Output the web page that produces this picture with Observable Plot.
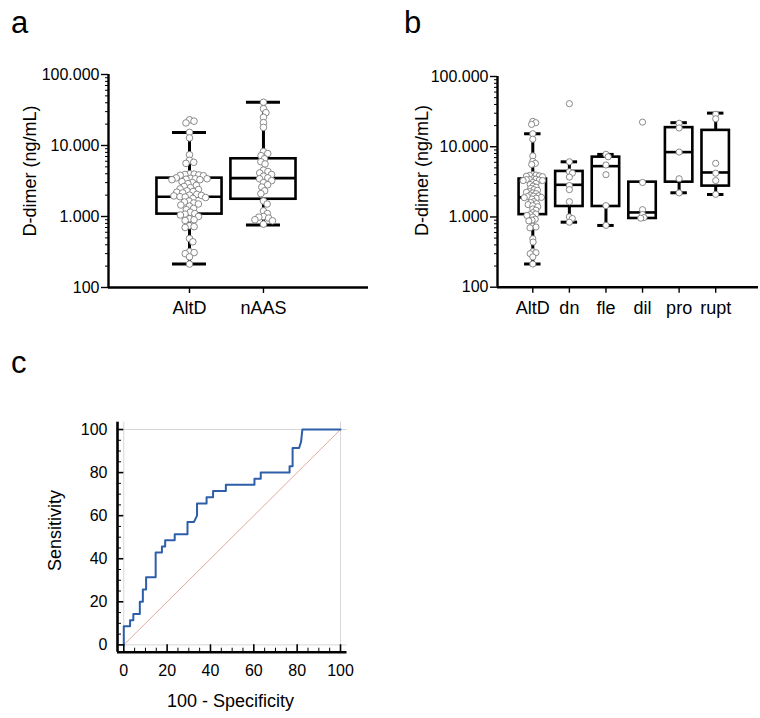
<!DOCTYPE html>
<html><head><meta charset="utf-8">
<script src="https://cdn.jsdelivr.net/npm/d3@7"></script>
<script src="https://cdn.jsdelivr.net/npm/@observablehq/plot@0.6"></script>
<style>
body{margin:0;background:#fff;}
#fig{position:relative;width:760px;height:718px;font-family:"Liberation Sans",Arial,sans-serif;overflow:hidden;background:#fff}
.panel{position:absolute}
.letter{position:absolute;font-size:31px;line-height:30px;color:#000;font-family:"Liberation Sans",Arial,sans-serif}
</style></head><body><div id="fig"></div>
<script>
// ---------- Panel a data ----------
const groupsA = ["AltD", "nAAS"];
const altD = [23000, 22000, 20800, 15300, 12800, 7400, 6200, 5800, 5600,
  4000, 3950, 3900, 3850, 3800, 3750,
  3500, 3450, 3400, 3400, 3350, 3300, 3300,
  3100, 3000, 2900, 2750, 2650, 2550, 2450, 2400, 2300, 2250, 2200, 2150,
  2050, 2000, 1980, 1950, 1900, 1880, 1850, 1800,
  1650, 1600, 1550, 1500, 1450, 1400, 1300, 1250,
  1150, 1100, 1080, 1050, 1000,
  930, 900, 880,
  740, 720, 700,
  490, 440,
  320, 310, 300, 270, 214];
const nAAS = [40700, 33000, 29000, 25000, 21000, 18000,
  8200, 7700, 7200, 6500, 5900, 5500,
  4500, 4300, 4100, 3900, 3700, 3500, 3400, 3200, 3000, 2800, 2600, 2300, 2100,
  1650, 1500, 1200, 1100, 1000, 980, 950, 900, 870, 780];
const boxMinA = [214, 760];
const boxQ1A = [1080, 1750];
const boxMedA = [1900, 3470];
const boxQ3A = [3470, 6500];
const boxMaxA = [15300, 40700];

// ---------- Panel b data ----------
const groupsB = ["AltD", "dn", "fle", "dil", "pro", "rupt"];
const dn = [41000, 6100, 4400, 4200, 3700, 2800, 2450, 1650, 1000, 950, 843];
const fle = [7800, 7200, 5500, 4000, 1450, 760];
const dil = [22400, 3100, 1270, 1080, 980, 960];
const pro = [21600, 18500, 8400, 3500, 2200];
const rupt = [29000, 25000, 5800, 4200, 3300, 2100];
const boxMinB = [214, 843, 757, 952, 2210, 2090];
const boxQ1B = [1080, 1410, 1410, 952, 3130, 2750];
const boxMedB = [1900, 2870, 5290, 1160, 8380, 4300];
const boxQ3B = [3470, 4450, 7110, 3130, 18700, 17100];
const boxMaxB = [15300, 6100, 7770, 3130, 22000, 30100];

// ---------- log axis ticks ----------
const yTicksMajor = [100, 1000, 10000, 100000];
const yTickLabels = ["100", "1.000", "10.000", "100.000"];
const yTicksMinor = [100, 1000, 10000].flatMap(d => [2, 3, 4, 5, 6, 7, 8, 9].map(k => k * d));

// ---------- Panel c data (ROC curve vertices) ----------
const rocFpr = [0, 0, 2.9, 2.9, 4.4, 4.4, 7.4, 7.4, 8.8, 8.8, 10.3, 10.3, 14.7, 14.7, 17.6, 17.6, 19.1, 19.1,
  23.5, 23.5, 29.4, 29.4, 32.4, 33.8, 33.8, 38.2, 38.2, 41.2, 41.2, 47.1, 47.1, 60.3, 60.3, 63.2, 63.2,
  76.5, 76.5, 77.9, 77.9, 80.9, 81.8, 82.4, 100];
const rocTpr = [0, 8.6, 8.6, 11.4, 11.4, 14.3, 14.3, 20.0, 20.0, 25.7, 25.7, 31.4, 31.4, 42.9, 42.9, 45.7, 45.7, 48.6,
  48.6, 51.4, 51.4, 57.1, 57.1, 60.0, 65.7, 65.7, 68.6, 68.6, 71.4, 71.4, 74.3, 74.3, 77.1, 77.1, 80.0,
  80.0, 82.9, 82.9, 91.4, 91.4, 94.3, 100, 100];
const refX = [0, 100];
const refY = [0, 100];
const rocTicksMajor = [0, 20, 40, 60, 80, 100];
const rocTicksMinor = [5, 10, 15, 25, 30, 35, 45, 50, 55, 65, 70, 75, 85, 90, 95];

// ---------- helpers ----------
function swarm(values, yPx, D) {
  const pts = values.map(v => ({v, py: yPx(v)})).sort((a, b) => a.py - b.py);
  const placed = [];
  for (const p of pts) {
    const near = placed.filter(q => Math.abs(q.py - p.py) < D);
    const cands = [0];
    for (const q of near) {
      const dx = Math.sqrt(D * D - (q.py - p.py) ** 2);
      cands.push(q.px + dx, q.px - dx);
    }
    cands.sort((a, b) => Math.abs(a) - Math.abs(b));
    let best = 0;
    for (const c of cands) {
      if (near.every(q => (q.px - c) ** 2 + (q.py - p.py) ** 2 >= D * D - 1e-6)) { best = c; break; }
    }
    p.px = best;
    placed.push(p);
  }
  return placed;
}

const FONT = '"Liberation Sans", Arial, sans-serif';

function boxPanel(o) {
  const plotW = o.width - o.ml - o.mr, plotH = o.height - o.mt - o.mb;
  const pxPerUnit = plotW / (o.xDom[1] - o.xDom[0]);
  const yPx = d3.scaleLog().domain([100, 1e5]).range([plotH, 0]);
  const pts = o.series.flatMap((vals, i) =>
    swarm(vals, yPx, 2 * o.r + o.gap).map(p => ({g: i, v: p.v, xo: p.px / pxPerUnit})));
  const boxes = o.groups.map((g, i) => ({i, min: o.mins[i], q1: o.q1s[i], med: o.meds[i], q3: o.q3s[i], max: o.maxs[i]}));
  const upper = boxes.filter(d => d.max > d.q3);
  const lower = boxes.filter(d => d.min < d.q1);
  const bw = o.boxW / 2, cw = o.capW / 2;
  return Plot.plot({
    width: o.width, height: o.height,
    marginTop: o.mt, marginBottom: o.mb, marginLeft: o.ml, marginRight: o.mr,
    x: {type: "linear", domain: o.xDom},
    y: {type: "log", domain: [100, 1e5]},
    style: {fontFamily: FONT, fontSize: "16px", background: "white", color: "black", overflow: "visible"},
    marks: [
      Plot.ruleX(upper, {x: "i", y1: "q3", y2: "max", stroke: "black", strokeWidth: 3}),
      Plot.ruleX(lower, {x: "i", y1: "min", y2: "q1", stroke: "black", strokeWidth: 3}),
      Plot.ruleY(upper, {y: "max", x1: d => d.i - cw, x2: d => d.i + cw, stroke: "black", strokeWidth: 3}),
      Plot.ruleY(lower, {y: "min", x1: d => d.i - cw, x2: d => d.i + cw, stroke: "black", strokeWidth: 3}),
      Plot.rect(boxes, {x1: d => d.i - bw, x2: d => d.i + bw, y1: "q1", y2: "q3", fill: "white", stroke: "black", strokeWidth: 2.6}),
      Plot.ruleY(boxes, {y: "med", x1: d => d.i - bw, x2: d => d.i + bw, stroke: "black", strokeWidth: 2.6}),
      Plot.dot(pts, {x: d => d.g + d.xo, y: "v", r: o.r, fill: "white", stroke: "#7d7d7d", strokeWidth: 0.9}),
      Plot.ruleX([o.xDom[0]], {stroke: "black", strokeWidth: 2.4}),
      Plot.ruleY([100], {stroke: "black", strokeWidth: 2.4}),
      Plot.axisY({ticks: yTicksMajor, tickFormat: d => yTickLabels[yTicksMajor.indexOf(d)], tickSize: 7, tickPadding: 2, fontSize: 16, label: null, strokeWidth: 1.4}),
      Plot.axisY({ticks: yTicksMinor, tickFormat: () => "", tickSize: 3, label: null, strokeWidth: 1}),
      Plot.axisX({ticks: d3.range(o.groups.length), tickFormat: i => o.groups[i], tickSize: 6, tickPadding: 7.7, fontSize: 18, label: null, strokeWidth: 1.4}),
      Plot.text([o.ylabel], {text: d => d, frameAnchor: "left", textAnchor: "middle", rotate: -90, dx: o.ldx, dy: o.ldy, fontSize: 18})
    ]
  });
}

const fig = document.getElementById("fig");
function place(node, left, top) {
  node.classList.add("panel");
  node.style.left = left + "px";
  node.style.top = top + "px";
  fig.appendChild(node);
}

// Panel a
place(boxPanel({
  groups: groupsA, series: [altD, nAAS],
  mins: boxMinA, q1s: boxQ1A, meds: boxMedA, q3s: boxQ3A, maxs: boxMaxA,
  width: 380, height: 330, mt: 74, mb: 43, ml: 108, mr: 12,
  xDom: [-1.095, 2.42], boxW: 0.88, capW: 0.46, r: 3.3, gap: -1.9,
  ylabel: "D-dimer (ng/mL)", ldx: -78, ldy: -10
}), 0, 0);

// Panel b
place(boxPanel({
  groups: groupsB, series: [altD, dn, fle, dil, pro, rupt],
  mins: boxMinB, q1s: boxQ1B, meds: boxMedB, q3s: boxQ3B, maxs: boxMaxB,
  width: 380, height: 330, mt: 76, mb: 43.3, ml: 117, mr: 2,
  xDom: [-0.965, 6.17], boxW: 0.75, capW: 0.45, r: 3.1, gap: -2.9,
  ylabel: "D-dimer (ng/mL)", ldx: -75.3, ldy: -11.3
}), 380, 0);

// Panel c
const rocData = rocFpr.map((x, i) => ({x, y: rocTpr[i]}));
const refData = refX.map((x, i) => ({x, y: refY[i]}));
const cx = [-2.9, 103], cy = [-3.4, 103.4];
const rocPlot = Plot.plot({
  width: 380, height: 358,
  marginTop: 61.7, marginBottom: 66.3, marginLeft: 117, marginRight: 33.5,
  x: {type: "linear", domain: cx},
  y: {type: "linear", domain: cy},
  style: {fontFamily: FONT, fontSize: "16px", background: "white", color: "black", overflow: "visible"},
  marks: [
    Plot.ruleY([0, 100], {stroke: "#d6d6d6", strokeWidth: 1}),
    Plot.ruleX([0, 100], {stroke: "#d6d6d6", strokeWidth: 1}),
    Plot.line(refData, {x: "x", y: "y", stroke: "#e0a090", strokeWidth: 0.9}),
    Plot.line(rocData, {x: "x", y: "y", stroke: "#2e5ea9", strokeWidth: 2}),
    Plot.ruleX([cx[0]], {stroke: "black", strokeWidth: 2.6}),
    Plot.ruleY([cy[0]], {stroke: "black", strokeWidth: 2.6}),
    Plot.axisY({ticks: rocTicksMajor, tickSize: -6.3, tickPadding: 16.3, fontSize: 16, label: null, strokeWidth: 1.6}),
    Plot.axisY({ticks: rocTicksMinor, tickSize: -4, tickFormat: () => "", label: null, strokeWidth: 1}),
    Plot.axisX({ticks: rocTicksMajor, tickSize: -7.4, tickPadding: 20, fontSize: 16, label: null, strokeWidth: 1.6}),
    Plot.axisX({ticks: rocTicksMinor, tickSize: -4, tickFormat: () => "", label: null, strokeWidth: 1}),
    Plot.text(["Sensitivity"], {text: d => d, frameAnchor: "left", textAnchor: "middle", rotate: -90, dx: -62, dy: -6.7, fontSize: 18}),
    Plot.text(["100 - Specificity"], {text: d => d, frameAnchor: "bottom", textAnchor: "middle", dx: -1.7, dy: 55, fontSize: 18})
  ]
});
place(rocPlot, 0, 360);

// panel letters
[["a", 11, 8], ["b", 404, 8], ["c", 11, 348]].forEach(([t, l, tp]) => {
  const d = document.createElement("div");
  d.className = "letter";
  d.textContent = t;
  d.style.left = l + "px";
  d.style.top = tp + "px";
  fig.appendChild(d);
});
</script></body></html>
